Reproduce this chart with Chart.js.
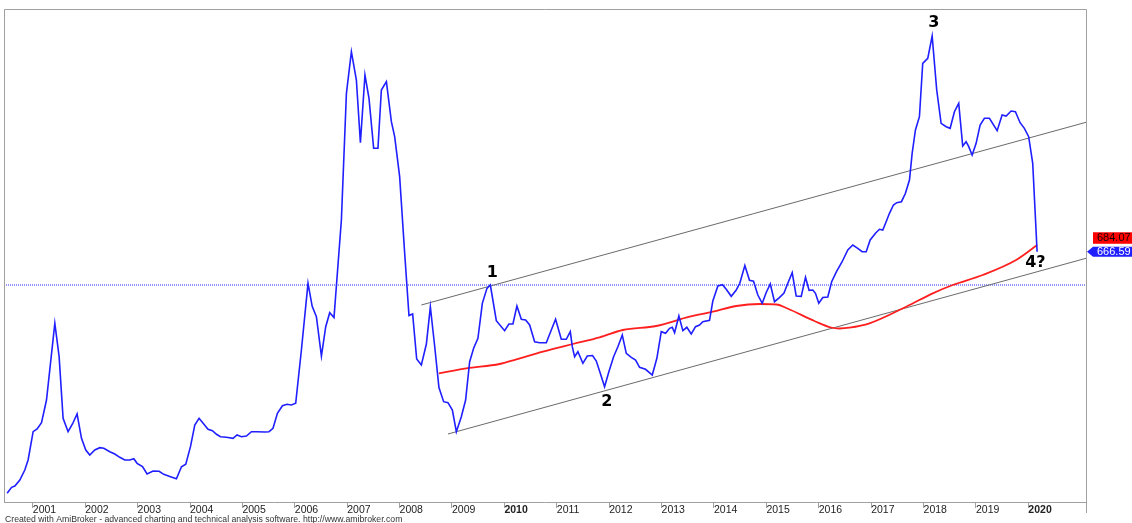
<!DOCTYPE html>
<html><head><meta charset="utf-8">
<script src="https://cdn.jsdelivr.net/npm/chart.js@4/dist/chart.umd.min.js"></script>
<style>html,body{margin:0;padding:0;background:#fff;overflow:hidden}canvas{display:block}</style>
</head><body>
<canvas id="c" width="1132" height="523"></canvas>
<script>
// ---- data ----
const priceYears = [
2000.510,2000.594,2000.657,2000.752,2000.847,2000.910,2001.006,2001.082,2001.166,2001.261,
2001.420,2001.502,2001.578,2001.673,2001.757,2001.845,2001.929,2002.011,2002.087,2002.183,
2002.278,2002.355,2002.469,2002.564,2002.660,2002.755,2002.851,2002.927,2002.990,2003.093,
2003.181,2003.295,2003.410,2003.499,2003.627,2003.741,2003.837,2003.919,2004.009,2004.091,
2004.173,2004.262,2004.344,2004.428,2004.505,2004.581,2004.695,2004.821,2004.898,2004.981,
2005.077,2005.172,2005.268,2005.426,2005.508,2005.584,2005.668,2005.764,2005.851,2005.935,
2006.017,2006.126,2006.252,2006.332,2006.412,2006.508,2006.590,2006.666,2006.748,2006.889,
2006.985,2007.080,2007.175,2007.252,2007.339,2007.416,2007.505,2007.587,2007.652,2007.748,
2007.843,2007.906,2008.001,2008.097,2008.179,2008.249,2008.326,2008.415,2008.511,2008.587,
2008.669,2008.751,2008.841,2008.923,2009.007,2009.083,2009.178,2009.260,2009.337,2009.413,
2009.495,2009.579,2009.667,2009.732,2009.846,2010.004,2010.086,2010.163,2010.239,2010.323,
2010.405,2010.482,2010.577,2010.672,2010.800,2010.895,2010.977,2011.086,2011.181,2011.258,
2011.296,2011.340,2011.403,2011.498,2011.582,2011.683,2011.754,2011.830,2011.912,2011.994,
2012.084,2012.166,2012.250,2012.326,2012.421,2012.504,2012.580,2012.694,2012.822,2012.910,
2012.994,2013.076,2013.152,2013.204,2013.248,2013.330,2013.406,2013.482,2013.566,2013.648,
2013.724,2013.787,2013.915,2013.978,2014.074,2014.163,2014.234,2014.329,2014.425,2014.493,
2014.589,2014.678,2014.755,2014.837,2014.921,2014.997,2015.075,2015.155,2015.243,2015.336,
2015.409,2015.493,2015.569,2015.665,2015.747,2015.815,2015.886,2015.937,2016.000,2016.077,
2016.172,2016.246,2016.338,2016.443,2016.554,2016.649,2016.744,2016.828,2016.905,2016.981,
2017.082,2017.158,2017.221,2017.286,2017.349,2017.425,2017.488,2017.578,2017.654,2017.731,
2017.782,2017.845,2017.921,2017.984,2018.080,2018.164,2018.251,2018.335,2018.431,2018.507,
2018.589,2018.671,2018.747,2018.812,2018.862,2018.927,2019.003,2019.079,2019.161,2019.257,
2019.404,2019.499,2019.575,2019.671,2019.753,2019.842,2019.924,2020.006,2020.083,2020.167];
const priceValues = [
38.6,54.2,57.6,73.2,99.2,125.2,198.8,205.8,222.2,281.2,
480.6,393.8,233.6,198.8,218.8,244.8,181.6,151.2,138.2,151.2,
157.2,155.6,146.8,140.8,132.2,125.2,125.2,128.6,116.6,107.8,
88.8,96.6,95.8,88.0,81.8,76.6,107.8,114.0,159.8,216.2,
233.6,218.8,205.0,201.4,192.0,185.8,184.2,181.6,190.2,185.8,
187.6,198.8,198.8,198.0,198.8,207.6,246.6,266.4,270.0,268.2,
272.6,411.2,584.6,524.8,497.8,395.6,471.8,508.2,495.7,749.2,
1078.6,1186.8,1113.2,950.2,1126.2,1065.6,935.6,935.6,1087.2,1108.8,
1004.8,965.8,861.8,662.6,500.9,504.8,387.8,372.2,426.8,523.0,
421.6,313.7,276.8,274.2,255.2,198.8,237.8,281.2,380.8,415.6,
441.6,532.6,571.6,580.2,487.4,461.4,478.8,478.8,525.6,491.0,
489.2,476.2,432.8,430.2,430.2,463.2,491.0,439.0,439.0,458.8,
419.8,393.8,406.8,376.6,395.6,396.9,382.6,350.6,315.8,354.8,
393.8,419.8,450.2,402.6,392.2,385.2,366.2,361.0,346.2,389.6,
458.8,454.6,467.6,470.2,456.2,499.6,461.4,470.2,452.8,471.8,
476.2,484.8,488.4,538.6,577.6,581.0,569.0,550.8,567.2,584.6,
630.9,592.4,590.1,554.2,532.6,560.7,582.8,536.8,546.9,559.4,
584.6,612.2,551.6,550.8,600.2,566.4,567.2,558.6,532.6,547.7,
549.0,588.8,614.8,640.0,671.2,684.2,675.6,666.8,666.8,697.2,
714.6,725.0,723.2,744.8,766.6,788.2,794.2,796.8,818.6,853.2,
922.6,983.2,1017.8,1156.6,1169.6,1227.6,1087.2,1000.6,991.8,987.6,
1030.8,1052.6,941.6,952.8,939.8,918.2,948.6,996.2,1013.6,1013.6,
981.4,1022.2,1019.6,1032.6,1030.8,1002.2,987.6,965.8,896.6,666.59];
const maYears = [2008.751,2009.274,2009.909,2010.228,2010.735,2011.307,2011.817,2012.261,2012.898,2013.534,2013.978,2014.425,2014.869,2015.193,2015.403,2015.918,2016.233,2016.395,2016.586,2016.968,2017.668,2018.175,2018.557,2019.129,2019.766,2020.167];
const maValues = [350.6,363.6,374.8,387.0,406.8,426.8,444.2,463.2,473.6,497.8,510.8,525.6,530.8,529.5,519.1,486.6,469.7,467.1,469.2,480.6,523.8,558.6,580.2,606.2,645.2,684.07];
const upperChannelYears = [2008.415, 2021.10];
const upperChannelValues = [528.2, 1003.2];
const lowerChannelYears = [2008.923, 2021.10];
const lowerChannelValues = [192.8, 649.6];
const referenceLevel = 580.2;
const yearTicks = [2001,2002,2003,2004,2005,2006,2007,2008,2009,2010,2011,2012,2013,2014,2015,2016,2017,2018,2019,2020];
const waveLabels = ['1','2','3','4?'];
const waveYears = [2009.770, 2011.956, 2018.194, 2020.134];
const waveValues = [612.2, 276.8, 1260.6, 636.6];
const lastPriceLabel = '666.59';
const lastMALabel = '684.07';
const footerText = 'Created with AmiBroker - advanced charting and technical analysis software. http://www.amibroker.com';
const X_MIN = 2000.45, X_MAX = 2021.1, Y_MIN = 16, Y_MAX = 1297.8;

const pts = (xs, ys) => xs.map((x, i) => ({x, y: ys[i]}));

const overlay = {
  id: 'overlay',
  afterDatasetsDraw(chart) {
    const {ctx, chartArea: a, scales: {x, y}} = chart;
    ctx.save();
    // frame
    ctx.strokeStyle = '#a0a0a0';
    ctx.lineWidth = 1;
    ctx.beginPath();
    ctx.moveTo(a.left + 0.5, a.bottom);
    ctx.lineTo(a.left + 0.5, a.top + 0.5);
    ctx.lineTo(a.right + 0.5, a.top + 0.5);
    ctx.lineTo(a.right + 0.5, a.bottom + 11);
    ctx.stroke();
    // wave labels
    ctx.fillStyle = '#000';
    ctx.font = 'bold 16px "DejaVu Sans", Verdana, sans-serif';
    ctx.textAlign = 'center';
    ctx.textBaseline = 'middle';
    waveLabels.forEach((t, i) => {
      ctx.fillText(t, x.getPixelForValue(waveYears[i]), y.getPixelForValue(waveValues[i]));
    });
    // value labels
    const bY = y.getPixelForValue(priceValues[priceValues.length - 1]);
    const bx = a.right + 1;
    ctx.fillStyle = '#1f1fff';
    ctx.beginPath();
    ctx.moveTo(bx, bY);
    ctx.lineTo(bx + 6, bY - 5);
    ctx.lineTo(chart.width, bY - 5);
    ctx.lineTo(chart.width, bY + 5);
    ctx.lineTo(bx + 6, bY + 5);
    ctx.closePath();
    ctx.fill();
    ctx.fillStyle = '#ff0000';
    ctx.fillRect(bx + 6, bY - 19.5, chart.width - bx - 6, 11.5);
    ctx.font = '11px "Liberation Sans", Arial, sans-serif';
    ctx.textAlign = 'left';
    ctx.textBaseline = 'middle';
    ctx.fillStyle = '#ffffff';
    ctx.fillText(lastPriceLabel, bx + 10, bY + 0.5);
    ctx.fillStyle = '#1a0000';
    ctx.fillText(lastMALabel, bx + 10, bY - 13.5);
    // footer
    ctx.font = '8.7px "Liberation Sans", Arial, sans-serif';
    ctx.fillStyle = '#333';
    ctx.textBaseline = 'alphabetic';
    ctx.fillText(footerText, 5, 522);
    ctx.restore();
  }
};

new Chart(document.getElementById('c'), {
  type: 'line',
  data: {
    datasets: [
      {data: pts(priceYears, priceValues), borderColor: '#1f1fff', borderWidth: 1.6, order: 0},
      {data: pts(maYears, maValues), borderColor: '#ff1f1f', borderWidth: 1.8, order: 1, cubicInterpolationMode: 'monotone'},
      {data: pts(upperChannelYears, upperChannelValues), borderColor: '#6a6a6a', borderWidth: 1, order: 2},
      {data: pts(lowerChannelYears, lowerChannelValues), borderColor: '#6a6a6a', borderWidth: 1, order: 2},
      {data: pts([X_MIN, X_MAX], [referenceLevel, referenceLevel]), borderColor: '#2a2aff', borderWidth: 1, borderDash: [1, 1], order: 3}
    ]
  },
  options: {
    responsive: false,
    animation: false,
    devicePixelRatio: 1,
    parsing: false,
    elements: {point: {radius: 0}, line: {tension: 0}},
    layout: {padding: {left: 4, right: 46, top: 9, bottom: 0}},
    plugins: {legend: {display: false}, tooltip: {enabled: false}},
    scales: {
      x: {
        type: 'linear', min: X_MIN, max: X_MAX,
        afterBuildTicks: s => { s.ticks = yearTicks.map(v => ({value: v})); },
        afterFit: s => { s.height = 21; },
        grid: {drawOnChartArea: false, drawTicks: true, tickLength: 6, color: '#a0a0a0', tickColor: '#a0a0a0'},
        border: {display: true, color: '#a0a0a0'},
        ticks: {
          align: 'start', padding: -4, autoSkip: false, maxRotation: 0, color: '#222',
          font: c => ({family: '"Liberation Sans", Arial, sans-serif', size: 10.5, weight: (c.tick && c.tick.value % 10 === 0) ? 'bold' : 'normal'}),
          callback: v => String(v)
        }
      },
      y: {display: false, min: Y_MIN, max: Y_MAX}
    }
  },
  plugins: [overlay]
});
</script>
</body></html>
